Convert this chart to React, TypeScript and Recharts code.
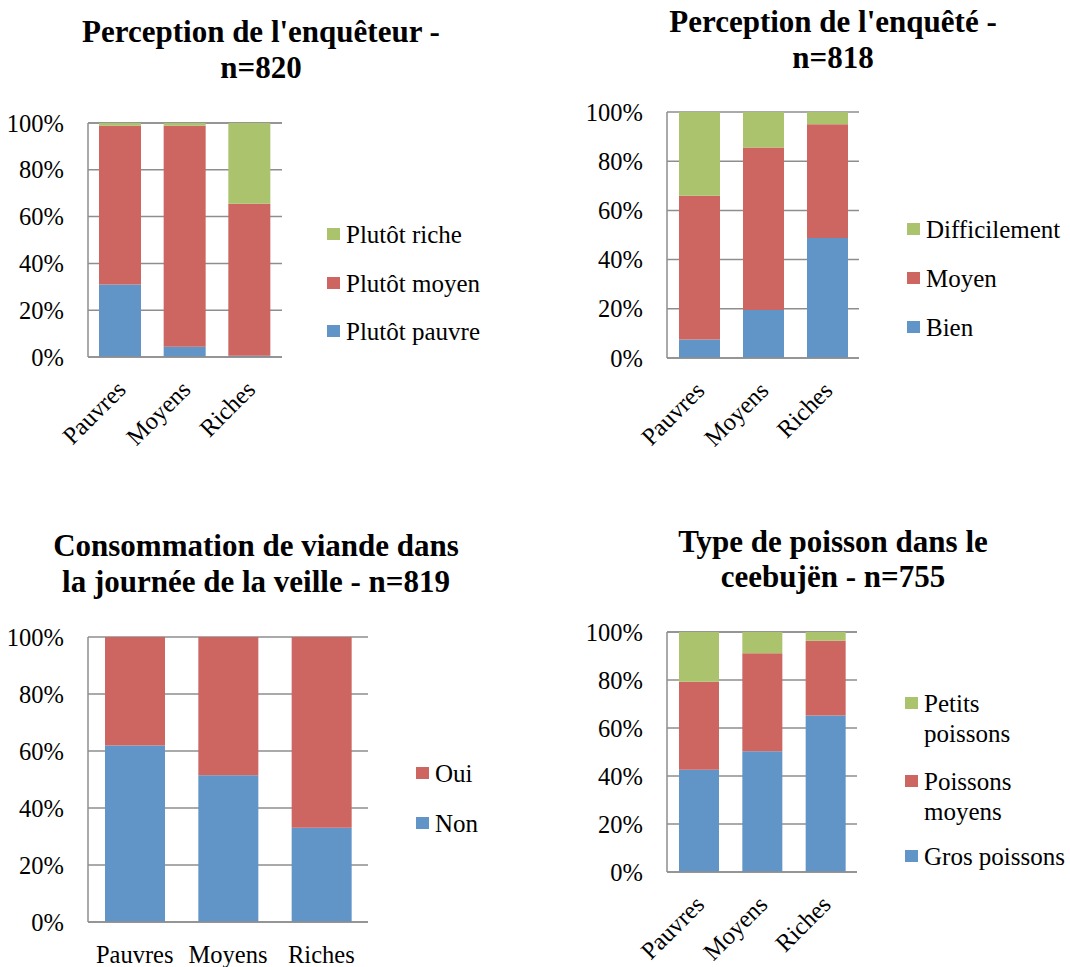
import { Bar, BarChart, CartesianGrid, XAxis, YAxis } from "recharts";

const categories = ["Pauvres", "Moyens", "Riches"];
const percentTicks = [0, 20, 40, 60, 80, 100];

// Perception de l'enquêteur (n=820)
const enqueteurPauvre = [31, 4.4, 0.5];
const enqueteurMoyen = [67.8, 94.4, 65];
const enqueteurRiche = [1.2, 1.2, 34.5];

// Perception de l'enquêté (n=818)
const enqueteBien = [7.5, 19.5, 48.8];
const enqueteMoyen = [58.5, 66.1, 46.2];
const enqueteDifficile = [34, 14.4, 5];

// Consommation de viande la veille (n=819)
const viandeNon = [61.9, 51.5, 33.1];
const viandeOui = [38.1, 48.5, 66.9];

// Type de poisson dans le ceebujën (n=755)
const poissonGros = [42.6, 50.3, 65.2];
const poissonMoyens = [36.7, 40.8, 31.2];
const poissonPetits = [20.7, 8.9, 3.6];

const BLUE = "#6195C7";
const RED = "#CD6560";
const GREEN = "#AAC36C";
const GRID = "#8E8E8E";
const FONT = '"Liberation Serif", "Times New Roman", serif';

type Series = { key: string; label: string[]; color: string; values: number[] };

type Panel = {
  left: number;
  top: number;
  width: number;
  height: number;
  marginTop: number;
  marginRight: number;
  yWidth: number;
  xHeight: number;
  barSize: number;
  slanted: boolean;
  series: Series[]; // bottom to top
  title: string[];
  titleX: number;
  titleY: number[];
  legendX: number;
  legendY: number[][]; // baselines per item, top item first
};

const panels: Panel[] = [
  {
    left: 0, top: 100, width: 300, height: 380,
    marginTop: 23, marginRight: 18, yWidth: 88, xHeight: 123, barSize: 42, slanted: true,
    series: [
      { key: "pauvre", label: ["Plutôt pauvre"], color: BLUE, values: enqueteurPauvre },
      { key: "moyen", label: ["Plutôt moyen"], color: RED, values: enqueteurMoyen },
      { key: "riche", label: ["Plutôt riche"], color: GREEN, values: enqueteurRiche },
    ],
    title: ["Perception de l'enquêteur -", "n=820"],
    titleX: 261, titleY: [42, 78],
    legendX: 327, legendY: [[243], [292], [340]],
  },
  {
    left: 580, top: 90, width: 300, height: 380,
    marginTop: 22, marginRight: 21, yWidth: 87, xHeight: 112, barSize: 41, slanted: true,
    series: [
      { key: "bien", label: ["Bien"], color: BLUE, values: enqueteBien },
      { key: "moyen", label: ["Moyen"], color: RED, values: enqueteMoyen },
      { key: "difficile", label: ["Difficilement"], color: GREEN, values: enqueteDifficile },
    ],
    title: ["Perception de l'enquêté -", "n=818"],
    titleX: 833, titleY: [32, 68],
    legendX: 907, legendY: [[238], [287], [336]],
  },
  {
    left: 0, top: 600, width: 390, height: 367,
    marginTop: 37, marginRight: 22, yWidth: 88, xHeight: 45, barSize: 60, slanted: false,
    series: [
      { key: "non", label: ["Non"], color: BLUE, values: viandeNon },
      { key: "oui", label: ["Oui"], color: RED, values: viandeOui },
    ],
    title: ["Consommation de viande dans", "la journée de la veille - n=819"],
    titleX: 256, titleY: [556, 592],
    legendX: 416, legendY: [[782], [832]],
  },
  {
    left: 580, top: 600, width: 300, height: 367,
    marginTop: 32, marginRight: 23, yWidth: 87, xHeight: 95, barSize: 40, slanted: true,
    series: [
      { key: "gros", label: ["Gros poissons"], color: BLUE, values: poissonGros },
      { key: "moyens", label: ["Poissons", "moyens"], color: RED, values: poissonMoyens },
      { key: "petits", label: ["Petits", "poissons"], color: GREEN, values: poissonPetits },
    ],
    title: ["Type de poisson dans le", "ceebujën - n=755"],
    titleX: 833, titleY: [552, 587],
    legendX: 905, legendY: [[712, 742], [790, 820], [865]],
  },
];

function toRows(series: Series[]) {
  return categories.map((name, i) => {
    const row: Record<string, string | number> = { name };
    series.forEach((s) => {
      row[s.key] = s.values[i];
    });
    return row;
  });
}

function SlantTick({ x, y, payload }: any) {
  const tx = x + 7;
  const ty = y + 34;
  return (
    <text
      x={tx}
      y={ty}
      transform={`rotate(-45 ${tx} ${ty})`}
      textAnchor="end"
      fontSize={24.5}
      fontFamily={FONT}
      fill="#000"
    >
      {payload.value}
    </text>
  );
}

function StackedPanel({ p }: { p: Panel }) {
  const data = toRows(p.series);
  const legendItems = [...p.series].reverse();
  return (
    <>
      <div style={{ position: "absolute", left: p.left, top: p.top }}>
        <BarChart
          width={p.width}
          height={p.height}
          data={data}
          margin={{ top: p.marginTop, right: p.marginRight, left: 0, bottom: 0 }}
        >
          <CartesianGrid vertical={false} stroke={GRID} strokeWidth={1.5} />
          <XAxis
            dataKey="name"
            height={p.xHeight}
            interval={0}
            axisLine={{ stroke: GRID, strokeWidth: 1.5 }}
            tickLine={false}
            tickSize={0}
            tickMargin={p.slanted ? 0 : 24}
            tick={p.slanted ? <SlantTick /> : { fontSize: 24.5, fill: "#000", fontFamily: FONT }}
          />
          <YAxis
            width={p.yWidth}
            domain={[0, 100]}
            ticks={percentTicks}
            interval={0}
            tickFormatter={(v) => `${v}%`}
            axisLine={{ stroke: GRID, strokeWidth: 1.5 }}
            tickLine={false}
            tickSize={0}
            tickMargin={24}
            tick={{ fontSize: 24.5, fill: "#000", fontFamily: FONT }}
          />
          {p.series.map((s) => (
            <Bar
              key={s.key}
              dataKey={s.key}
              stackId="a"
              fill={s.color}
              barSize={p.barSize}
              isAnimationActive={false}
            />
          ))}
        </BarChart>
      </div>
      <svg
        width={1070}
        height={967}
        style={{ position: "absolute", left: 0, top: 0, pointerEvents: "none" }}
      >
        {p.title.map((line, i) => (
          <text
            key={i}
            x={p.titleX}
            y={p.titleY[i]}
            textAnchor="middle"
            fontSize={31}
            fontWeight="bold"
            fontFamily={FONT}
            fill="#000"
          >
            {line}
          </text>
        ))}
        {legendItems.map((s, i) => (
          <g key={s.key}>
            <rect x={p.legendX} y={p.legendY[i][0] - 15} width={13} height={12} fill={s.color} />
            {s.label.map((line, j) => (
              <text
                key={j}
                x={p.legendX + 19}
                y={p.legendY[i][j]}
                fontSize={25}
                fontFamily={FONT}
                fill="#000"
              >
                {line}
              </text>
            ))}
          </g>
        ))}
      </svg>
    </>
  );
}

export default function App() {
  return (
    <div
      style={{
        position: "absolute",
        left: 0,
        top: 0,
        width: 1070,
        height: 967,
        background: "#fff",
        overflow: "hidden",
      }}
    >
      {panels.map((p, i) => (
        <StackedPanel key={i} p={p} />
      ))}
    </div>
  );
}
